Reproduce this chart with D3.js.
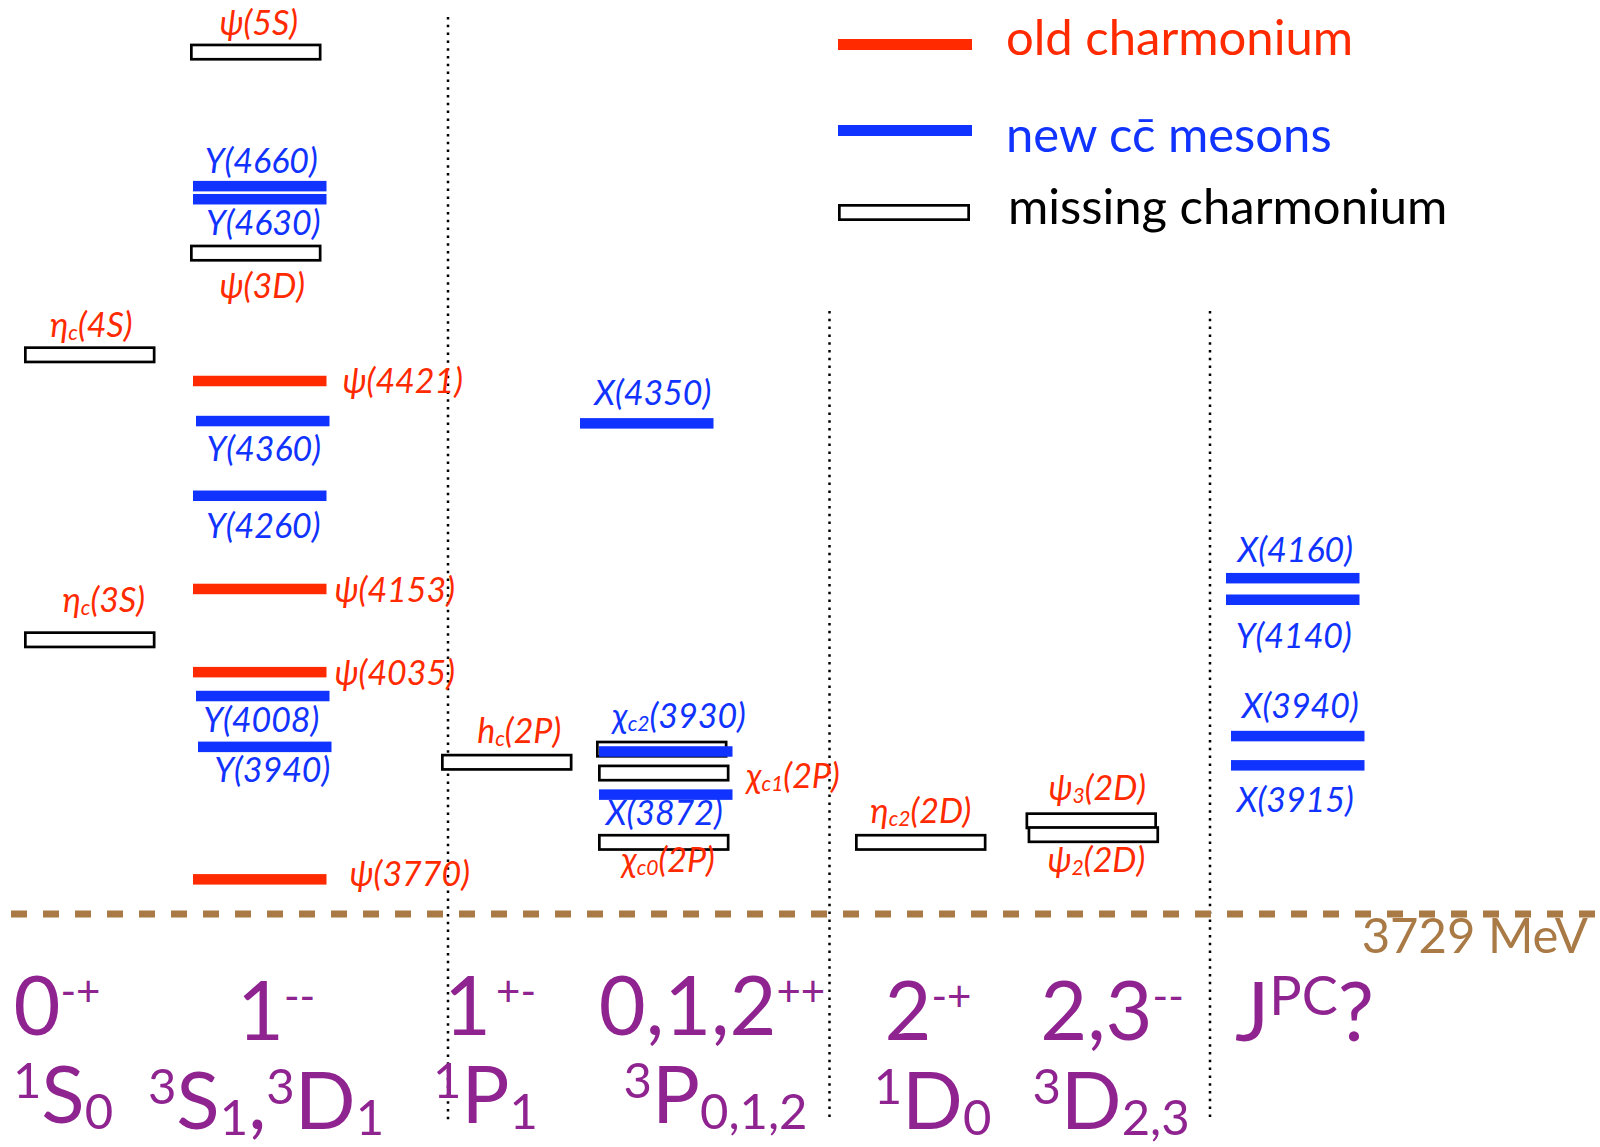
<!DOCTYPE html>
<html><head><meta charset="utf-8">
<script src="https://cdn.jsdelivr.net/npm/d3@7"></script>
<style>html,body{margin:0;padding:0;background:#fff;} svg{display:block;}</style>
</head><body>
<script>
// ---------------- DATA ----------------
const columns = ["0-+", "1--", "1+-", "0,1,2++", "2-+", "2,3--", "JPC?"];

const oldCharmonium = [
  {name: "ψ(4421)", col: "1--", mass: 4421},
  {name: "ψ(4153)", col: "1--", mass: 4151},
  {name: "ψ(4035)", col: "1--", mass: 4043},
  {name: "ψ(3770)", col: "1--", mass: 3774}
];

const newMesons = [
  {name: "Y(4660)", col: "1--", mass: 4674},
  {name: "Y(4630)", col: "1--", mass: 4657},
  {name: "Y(4360)", col: "1--", mass: 4369},
  {name: "Y(4260)", col: "1--", mass: 4272},
  {name: "Y(4008)", col: "1--", mass: 4012},
  {name: "Y(3940)", col: "1--", mass: 3946},
  {name: "X(4350)", col: "0,1,2++", mass: 4366},
  {name: "χ_{c2}(3930)", col: "0,1,2++", mass: 3940},
  {name: "X(3872)", col: "0,1,2++", mass: 3884},
  {name: "X(4160)", col: "JPC?", mass: 4165},
  {name: "Y(4140)", col: "JPC?", mass: 4137},
  {name: "X(3940)", col: "JPC?", mass: 3960},
  {name: "X(3915)", col: "JPC?", mass: 3922}
];

const missingCharmonium = [
  {name: "ψ(5S)", col: "1--", mass: 4848},
  {name: "ψ(3D)", col: "1--", mass: 4587},
  {name: "η_{c}(4S)", col: "0-+", mass: 4455},
  {name: "η_{c}(3S)", col: "0-+", mass: 4085},
  {name: "h_{c}(2P)", col: "1+-", mass: 3926},
  {name: "χ_{c2}(2P)", col: "0,1,2++", mass: 3943},
  {name: "χ_{c1}(2P)", col: "0,1,2++", mass: 3912},
  {name: "χ_{c0}(2P)", col: "0,1,2++", mass: 3822},
  {name: "η_{c2}(2D)", col: "2-+", mass: 3822},
  {name: "ψ_{3}(2D)", col: "2,3--", mass: 3850},
  {name: "ψ_{2}(2D)", col: "2,3--", mass: 3832}
];

const thresholdMass = 3729;
const thresholdLabel = "3729 MeV";
const legendLabels = ["old charmonium", "new cc\u0304 mesons", "missing charmonium"];

const jpcLabels = [
  [{t: "0"}, {t: "-+", r: "sup"}],
  [{t: "1"}, {t: "--", r: "sup"}],
  [{t: "1"}, {t: "\u2009+-", r: "sup"}],
  [{t: "0,1,2"}, {t: "++", r: "sup"}],
  [{t: "2"}, {t: "-+", r: "sup"}],
  [{t: "2,3"}, {t: "--", r: "sup"}],
  [{t: "J"}, {t: "PC", r: "supBig"}, {t: "?"}]
];
const termLabels = [
  [{t: "1", r: "sup"}, {t: "S"}, {t: "0", r: "sub"}],
  [{t: "3", r: "sup"}, {t: "S"}, {t: "1", r: "sub"}, {t: ","}, {t: "3", r: "sup"}, {t: "D"}, {t: "1", r: "sub"}],
  [{t: "1", r: "sup"}, {t: "P"}, {t: "1", r: "sub"}],
  [{t: "3", r: "sup"}, {t: "P"}, {t: "0,1,2", r: "sub"}],
  [{t: "1", r: "sup"}, {t: "D"}, {t: "0", r: "sub"}],
  [{t: "3", r: "sup"}, {t: "D"}, {t: "2,3", r: "sub"}]
];

// ---------------- LAYOUT / STYLE ----------------
const W = 1600, H = 1147;
const RED = "#FF2A00", BLUE = "#1133FF", PURPLE = "#8F2390", BROWN = "#A97A45";
const FONT = "Lato, 'Noto Sans', 'DejaVu Sans', sans-serif";

const y = d3.scaleLinear().domain([3729, 4421]).range([914, 381]);
const xCol = d3.scaleOrdinal().domain(columns).range([24, 190, 441, 596, 855, 1026, 1226]);

const barW = 133.5, barH = 10.5, boxW = 131.5, boxH = 17, boxStroke = 2.7;
const nudge = {
  "ψ(4421)": 3, "ψ(4153)": 3, "ψ(4035)": 3, "ψ(3770)": 3,
  "Y(4660)": 3, "Y(4630)": 3, "Y(4260)": 3, "Y(4360)": 6, "Y(4008)": 6, "Y(3940)": 8,
  "X(4350)": -16, "χ_{c2}(3930)": 3, "χ_{c1}(2P)": 2, "X(3872)": 3, "χ_{c0}(2P)": 2,
  "ψ_{3}(2D)": -0.5, "ψ_{2}(2D)": 1.6, "X(3940)": 5, "X(3915)": 5
};
// [placement, dx, dy]
const labelLayout = {
  "ψ(5S)": ["mid", 3, -17.5], "Y(4660)": ["mid", 1.5, -13.3], "Y(4630)": ["mid", 3.5, 36],
  "ψ(3D)": ["mid", 6.5, 45], "η_{c}(4S)": ["mid", 1.5, -17.5], "ψ(4421)": ["right", 16, 12],
  "Y(4360)": ["mid", 1, 40], "Y(4260)": ["mid", 3.5, 42], "ψ(4153)": ["right", 8, 12.7],
  "η_{c}(3S)": ["mid", 14, -27.5], "ψ(4035)": ["right", 8, 13], "Y(4008)": ["mid", -1.5, 35.7],
  "Y(3940)": ["mid", 7.5, 35], "ψ(3770)": ["right", 23, 7], "h_{c}(2P)": ["mid", 12.5, -19],
  "X(4350)": ["mid", 6, -18], "χ_{c2}(3930)": ["mid", 13.5, -23.5], "χ_{c1}(2P)": ["right", 17, 15],
  "X(3872)": ["mid", -1.5, 30.5], "χ_{c0}(2P)": ["mid", 4.5, 30], "η_{c2}(2D)": ["mid", 0, -19],
  "ψ_{3}(2D)": ["mid", 6, -21], "ψ_{2}(2D)": ["mid", 3, 37], "X(4160)": ["mid", 2.5, -16],
  "Y(4140)": ["mid", 1, 48], "X(3940)": ["mid", 2.5, -18], "X(3915)": ["mid", -2.5, 47]
};

const svg = d3.select("body").append("svg").attr("width", W).attr("height", H)
  .style("font-family", FONT);

// separators
const separators = [{x: 448, top: 17, bottom: 1122}, {x: 829.5, top: 311, bottom: 1120}, {x: 1210, top: 311, bottom: 1120}];
svg.append("g").selectAll("line").data(separators).join("line")
  .attr("x1", d => d.x).attr("x2", d => d.x).attr("y1", d => d.top).attr("y2", d => d.bottom)
  .attr("stroke", "#000").attr("stroke-width", 2.5).attr("stroke-dasharray", "2.5,5.3");

// threshold
svg.append("line").attr("x1", 11).attr("x2", 1598).attr("y1", y(thresholdMass)).attr("y2", y(thresholdMass))
  .attr("stroke", BROWN).attr("stroke-width", 7).attr("stroke-dasharray", "16,16");
svg.append("text").attr("x", 1588).attr("y", y(thresholdMass) + 39).attr("text-anchor", "end")
  .attr("font-size", 49).attr("fill", BROWN).text(thresholdLabel);

const left = d => xCol(d.col) + (nudge[d.name] || 0);

// boxes (missing)
svg.append("g").selectAll("rect").data(missingCharmonium).join("rect")
  .attr("x", d => left(d) + boxStroke / 2).attr("y", d => y(d.mass) - boxH / 2 + boxStroke / 2)
  .attr("width", boxW - boxStroke).attr("height", boxH - boxStroke)
  .attr("fill", "#fff").attr("stroke", "#000").attr("stroke-width", boxStroke);

// bars
const bars = [...oldCharmonium.map(d => ({...d, c: RED})), ...newMesons.map(d => ({...d, c: BLUE}))];
svg.append("g").selectAll("rect").data(bars).join("rect")
  .attr("x", d => left(d)).attr("y", d => y(d.mass) - barH / 2)
  .attr("width", barW).attr("height", barH).attr("fill", d => d.c);

// labels
function parseName(s) {
  const parts = []; const re = /_\{([^}]*)\}/g; let last = 0, m;
  while ((m = re.exec(s))) { if (m.index > last) parts.push({t: s.slice(last, m.index)}); parts.push({t: m[1], sub: true}); last = re.lastIndex; }
  if (last < s.length) parts.push({t: s.slice(last)});
  return parts;
}
const labelled = [
  ...oldCharmonium.map(d => ({...d, c: RED, w: barW})),
  ...newMesons.map(d => ({...d, c: BLUE, w: barW})),
  ...missingCharmonium.map(d => ({...d, c: RED, w: boxW}))
].filter(d => labelLayout[d.name]);

const LFS = 34;
labelled.forEach(d => {
  const [pl, dx, dy] = labelLayout[d.name];
  const xx = pl === "right" ? left(d) + d.w + dx : left(d) + d.w / 2 + dx;
  const t = svg.append("text").attr("x", xx).attr("y", y(d.mass) + dy)
    .attr("text-anchor", pl === "right" ? "start" : "middle")
    .attr("font-size", LFS).attr("font-style", "italic").attr("fill", d.c);
  let cur = 0;
  parseName(d.name).forEach(p => {
    const target = p.sub ? 3 : 0;
    t.append("tspan").attr("dy", target - cur).attr("font-size", p.sub ? LFS * 0.62 : LFS).text(p.t);
    cur = target;
  });
});

// legend
const legendY = [44.5, 130.5, 212.5];
const lg = svg.append("g");
lg.append("rect").attr("x", 838).attr("y", legendY[0] - 5.5).attr("width", 134).attr("height", 11).attr("fill", RED);
lg.append("rect").attr("x", 838).attr("y", legendY[1] - 5.5).attr("width", 134).attr("height", 11).attr("fill", BLUE);
lg.append("rect").attr("x", 838 + 1.35).attr("y", legendY[2] - 8.5 + 1.35).attr("width", 132 - 2.7).attr("height", 17 - 2.7)
  .attr("fill", "#fff").attr("stroke", "#000").attr("stroke-width", 2.7);
const legendColors = [RED, BLUE, "#000"];
const legendBase = [55, 152, 224];
lg.selectAll("text").data(legendLabels).join("text")
  .attr("x", (d, i) => i === 2 ? 1008 : 1006).attr("y", (d, i) => legendBase[i])
  .attr("font-size", 49).attr("fill", (d, i) => legendColors[i]).text(d => d);

// bottom quantum-number labels
const roleRow1 = {base: [81, 0], sup: [42, -29], supBig: [54, -26]};
const roleRow2 = {base: [80, 0], sup: [49, -25], sub: [49, 6]};
function drawRich(parts, cx, by, roles) {
  const t = svg.append("text").attr("x", cx).attr("y", by).attr("text-anchor", "middle").attr("fill", PURPLE);
  let cur = 0;
  parts.forEach(p => {
    const [fs, sh] = roles[p.r || "base"];
    t.append("tspan").attr("font-size", fs).attr("dy", sh - cur).text(p.t);
    cur = sh;
  });
}
const row1X = [57, 276, 490, 712, 928, 1112, 1304.5], row1B = [1035, 1040, 1035, 1035, 1040, 1040, 1041];
const row2X = [63, 266, 485.5, 715.5, 932.5, 1111], row2B = [1123, 1129, 1123, 1123, 1129, 1129];
jpcLabels.forEach((p, i) => drawRich(p, row1X[i], row1B[i], roleRow1));
termLabels.forEach((p, i) => drawRich(p, row2X[i], row2B[i], roleRow2));
</script>
</body></html>
